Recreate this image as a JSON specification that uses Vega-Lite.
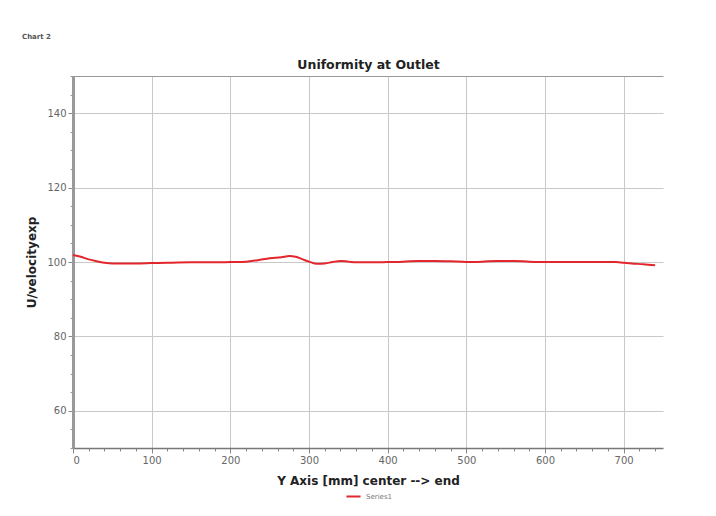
{
  "$schema": "https://vega.github.io/schema/vega-lite/v6.json",
  "autosize": {"type": "none"},
  "width": 590,
  "height": 372,
  "padding": {"left": 73, "top": 76, "right": 53, "bottom": 68},
  "background": "white",
  "title": {"text": "Chart 2", "anchor": "start", "frame": "group", "dx": -51, "offset": 18, "fontSize": 7, "font": "DejaVu Sans", "fontWeight": "bold", "color": "#555555"},
  "config": {
    "view": {"stroke": null},
    "axis": {"labelFont": "DejaVu Sans", "titleFont": "DejaVu Sans", "labelColor": "#666666", "labelFontSize": 10, "titleColor": "#222222", "titleFontSize": 12, "titleFontWeight": "bold", "gridColor": "#c8c8c8", "gridWidth": 1, "tickColor": "#888888", "domainColor": "#888888"}
  },
  "data": {"values": [
    {"x": 0, "y": 101.9, "series": "Series1"},
    {"x": 10, "y": 101.4, "series": "Series1"},
    {"x": 20, "y": 100.7, "series": "Series1"},
    {"x": 30, "y": 100.2, "series": "Series1"},
    {"x": 40, "y": 99.8, "series": "Series1"},
    {"x": 50, "y": 99.6, "series": "Series1"},
    {"x": 60, "y": 99.6, "series": "Series1"},
    {"x": 80, "y": 99.6, "series": "Series1"},
    {"x": 100, "y": 99.7, "series": "Series1"},
    {"x": 120, "y": 99.8, "series": "Series1"},
    {"x": 150, "y": 99.9, "series": "Series1"},
    {"x": 180, "y": 99.9, "series": "Series1"},
    {"x": 200, "y": 100.0, "series": "Series1"},
    {"x": 220, "y": 100.1, "series": "Series1"},
    {"x": 235, "y": 100.5, "series": "Series1"},
    {"x": 250, "y": 101.0, "series": "Series1"},
    {"x": 265, "y": 101.3, "series": "Series1"},
    {"x": 275, "y": 101.6, "series": "Series1"},
    {"x": 283, "y": 101.4, "series": "Series1"},
    {"x": 292, "y": 100.7, "series": "Series1"},
    {"x": 300, "y": 100.1, "series": "Series1"},
    {"x": 310, "y": 99.5, "series": "Series1"},
    {"x": 320, "y": 99.6, "series": "Series1"},
    {"x": 330, "y": 100.0, "series": "Series1"},
    {"x": 340, "y": 100.3, "series": "Series1"},
    {"x": 350, "y": 100.1, "series": "Series1"},
    {"x": 360, "y": 99.9, "series": "Series1"},
    {"x": 380, "y": 99.9, "series": "Series1"},
    {"x": 400, "y": 100.0, "series": "Series1"},
    {"x": 420, "y": 100.1, "series": "Series1"},
    {"x": 440, "y": 100.3, "series": "Series1"},
    {"x": 460, "y": 100.3, "series": "Series1"},
    {"x": 480, "y": 100.2, "series": "Series1"},
    {"x": 500, "y": 100.0, "series": "Series1"},
    {"x": 520, "y": 100.1, "series": "Series1"},
    {"x": 540, "y": 100.3, "series": "Series1"},
    {"x": 560, "y": 100.3, "series": "Series1"},
    {"x": 580, "y": 100.1, "series": "Series1"},
    {"x": 600, "y": 100.0, "series": "Series1"},
    {"x": 650, "y": 100.0, "series": "Series1"},
    {"x": 690, "y": 100.0, "series": "Series1"},
    {"x": 700, "y": 99.8, "series": "Series1"},
    {"x": 710, "y": 99.6, "series": "Series1"},
    {"x": 725, "y": 99.4, "series": "Series1"},
    {"x": 740, "y": 99.1, "series": "Series1"}
  ]},
  "layer": [
    {
      "mark": {"type": "line", "opacity": 0},
      "encoding": {
        "x": {"field": "x", "type": "quantitative", "scale": {"domain": [0, 750], "nice": false, "zero": false},
          "axis": {"orient": "top", "title": "Uniformity at Outlet", "titleFontSize": 12.5, "titlePadding": 5, "titleColor": "#222222", "labels": false, "ticks": false, "grid": false, "domain": true, "domainColor": "#999999", "domainWidth": 1}},
        "y": {"field": "y", "type": "quantitative", "scale": {"domain": [50, 150], "nice": false, "zero": false},
          "axis": {"orient": "left", "values": [50,55,65,70,75,85,90,95,105,110,115,125,130,135,145,150], "labels": false, "grid": false, "domain": false, "tickSize": 3, "tickColor": "#999999", "title": null}}
      }
    },
    {
      "mark": {"type": "line", "opacity": 0},
      "encoding": {
        "x": {"field": "x", "type": "quantitative",
          "axis": {"orient": "bottom", "values": [20,40,60,80,120,140,160,180,220,240,260,280,320,340,360,380,420,440,460,480,520,540,560,580,620,640,660,680,720,740], "labels": false, "grid": false, "domain": false, "tickSize": 3, "tickColor": "#888888", "title": null}},
        "y": {"field": "y", "type": "quantitative", "axis": null}
      }
    },
    {
      "mark": {"type": "line", "color": "#e3262c", "strokeWidth": 2, "interpolate": "monotone"},
      "encoding": {
        "x": {"field": "x", "type": "quantitative",
          "axis": {"orient": "bottom", "values": [0,100,200,300,400,500,600,700], "grid": true, "tickSize": 5, "labelPadding": 2, "domainWidth": 1.5, "domainColor": "#777777", "title": "Y Axis [mm]  center --> end", "titlePadding": 10}},
        "y": {"field": "y", "type": "quantitative",
          "axis": {"orient": "left", "values": [60,80,100,120,140], "grid": true, "tickSize": 5, "labelPadding": 2, "domainWidth": 3, "domainColor": "#999999", "title": "U/velocityexp", "titlePadding": 8}},
        "color": {"field": "series", "type": "nominal", "scale": {"range": ["#e3262c"]},
          "legend": {"title": null, "orient": "none", "legendX": 272, "legendY": 412, "symbolType": "stroke", "symbolStrokeWidth": 2, "symbolSize": 200, "labelFontSize": 7, "labelColor": "#777777", "labelFont": "DejaVu Sans"}}
      }
    }
  ],
  "resolve": {"axis": {"x": "independent", "y": "independent"}}
}
